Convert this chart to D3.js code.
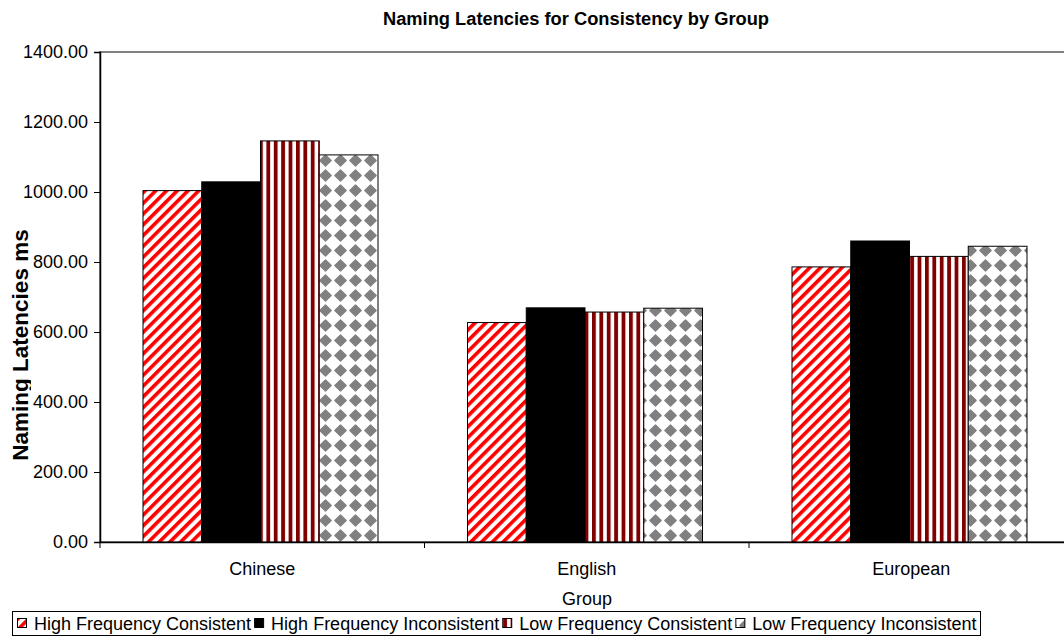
<!DOCTYPE html>
<html>
<head>
<meta charset="utf-8">
<script src="https://cdn.jsdelivr.net/npm/d3@7"></script>
<style>
  body { margin: 0; background: #fff; }
  svg { display: block; font-family: Arial, "Liberation Sans", sans-serif; }
</style>
</head>
<body>
<svg id="chart" width="1064" height="636"></svg>
<script>
// Groups on the category axis
const groups = ["Chinese", "English", "European"];
// Series (legend order)
const seriesNames = [
  "High Frequency Consistent",
  "High Frequency Inconsistent",
  "Low Frequency Consistent",
  "Low Frequency Inconsistent"
];
// Mean naming latencies (ms) per group
const highFreqConsistent   = [1004, 627, 786];
const highFreqInconsistent = [1029, 669, 860];
const lowFreqConsistent    = [1146, 657, 816];
const lowFreqInconsistent  = [1106, 668, 845];
const seriesValues = [highFreqConsistent, highFreqInconsistent, lowFreqConsistent, lowFreqInconsistent];
// Value axis ticks
const yTicks = [0, 200, 400, 600, 800, 1000, 1200, 1400];

const svg = d3.select("#chart");
const W = 1064, H = 636;
const plot = { left: 100, top: 52, bottom: 542, right: 1073.5 };

// ---- fill patterns ----
const defs = svg.append("defs");

// red wide upward diagonal
const pDiag = defs.append("pattern").attr("id", "pat-diag")
  .attr("patternUnits", "userSpaceOnUse").attr("width", 7.6).attr("height", 7.6)
  .attr("patternTransform", "rotate(45)");
pDiag.append("rect").attr("width", 7.6).attr("height", 7.6).attr("fill", "#fff");
pDiag.append("rect").attr("width", 3.6).attr("height", 7.6).attr("fill", "#ff0000");

// solid black
const pSolid = defs.append("pattern").attr("id", "pat-solid")
  .attr("patternUnits", "userSpaceOnUse").attr("width", 8).attr("height", 8);
pSolid.append("rect").attr("width", 8).attr("height", 8).attr("fill", "#000");

// dark red vertical stripes
const pVert = defs.append("pattern").attr("id", "pat-vert")
  .attr("patternUnits", "userSpaceOnUse").attr("width", 7.4).attr("height", 8);
pVert.append("rect").attr("width", 7.4).attr("height", 8).attr("fill", "#fff");
pVert.append("rect").attr("x", 0).attr("width", 3.8).attr("height", 8).attr("fill", "#800000");

// grey diamonds
const pDiam = defs.append("pattern").attr("id", "pat-diam")
  .attr("patternUnits", "userSpaceOnUse").attr("width", 15).attr("height", 15)
  .attr("x", 3).attr("y", 3);
pDiam.append("rect").attr("width", 15).attr("height", 15).attr("fill", "#fff");
pDiam.append("path")
  .attr("d", "M7.5,1.8 L13.2,7.5 L7.5,13.2 L1.8,7.5 Z")
  .attr("fill", "#808080")
  .attr("stroke", "#808080").attr("stroke-width", 1.2).attr("stroke-linejoin", "round");

const fills = ["url(#pat-diag)", "url(#pat-solid)", "url(#pat-vert)", "url(#pat-diam)"];

// ---- scales ----
const x0 = d3.scaleBand().domain(groups).range([plot.left, plot.right]);
const groupOffset = 43, groupWidth = 235;
const x1 = d3.scaleBand().domain(seriesNames).range([0, groupWidth]);
const y = d3.scaleLinear().domain([0, 1400]).range([plot.bottom, plot.top]);

// plot area border (grey)
svg.append("rect")
  .attr("x", plot.left).attr("y", plot.top)
  .attr("width", plot.right - plot.left).attr("height", plot.bottom - plot.top)
  .attr("fill", "none").attr("stroke", "#808080").attr("stroke-width", 2);

// ---- bars ----
const barData = [];
groups.forEach((g, gi) => {
  seriesNames.forEach((s, si) => {
    barData.push({ group: g, series: s, si, value: seriesValues[si][gi] });
  });
});
svg.append("g").selectAll("rect").data(barData).join("rect")
  .attr("x", d => x0(d.group) + groupOffset + x1(d.series))
  .attr("y", d => y(d.value))
  .attr("width", x1.bandwidth())
  .attr("height", d => y(0) - y(d.value))
  .attr("fill", d => fills[d.si])
  .attr("stroke", "#000").attr("stroke-width", 1);

// ---- y axis ----
const yAxis = d3.axisLeft(y).tickValues(yTicks).tickFormat(d3.format(".2f"))
  .tickSize(6).tickPadding(6);
const gy = svg.append("g").attr("transform", `translate(${plot.left},0)`).call(yAxis);
gy.select(".domain").attr("stroke", "#000").attr("stroke-width", 1.5);
gy.selectAll(".tick line").attr("stroke", "#000");
gy.selectAll(".tick text").attr("font-size", 18).attr("fill", "#000")
  .attr("font-family", "Arial, 'Liberation Sans', sans-serif");

// ---- x axis ----
const xAxis = d3.axisBottom(x0).tickSize(0).tickPadding(20);
const gx = svg.append("g").attr("transform", `translate(0,${plot.bottom})`).call(xAxis);
gx.select(".domain").attr("stroke", "#000").attr("stroke-width", 1.5);
gx.selectAll(".tick text").attr("font-size", 18).attr("fill", "#000")
  .attr("font-family", "Arial, 'Liberation Sans', sans-serif");
// category separators
svg.append("g").selectAll("line").data(groups).join("line")
  .attr("x1", d => x0(d)).attr("x2", d => x0(d))
  .attr("y1", plot.bottom).attr("y2", plot.bottom + 6)
  .attr("stroke", "#000");

// ---- titles ----
svg.append("text")
  .attr("x", 576).attr("y", 25)
  .attr("text-anchor", "middle").attr("font-size", 18.3).attr("font-weight", "bold")
  .text("Naming Latencies for Consistency by Group");

svg.append("text")
  .attr("x", 587).attr("y", 605)
  .attr("text-anchor", "middle").attr("font-size", 18)
  .text("Group");

defs.append("clipPath").attr("id", "ytitle-clip")
  .append("rect").attr("x", 0).attr("y", 0).attr("width", 31).attr("height", H);
svg.append("g").attr("clip-path", "url(#ytitle-clip)")
  .append("text")
  .attr("transform", "translate(28,345) rotate(-90)")
  .attr("text-anchor", "middle").attr("font-size", 22.5).attr("font-weight", "bold")
  .text("Naming Latencies ms");

// ---- legend ----
const legend = svg.append("g");
legend.append("rect")
  .attr("x", 12.5).attr("y", 611.5).attr("width", 968).attr("height", 24)
  .attr("fill", "#fff").attr("stroke", "#000").attr("stroke-width", 1);
let lx = 17;
seriesNames.forEach((s, i) => {
  legend.append("rect")
    .attr("x", lx + 0.5).attr("y", 618.5).attr("width", 9).attr("height", 9)
    .attr("fill", fills[i]).attr("stroke", "#000").attr("stroke-width", 1);
  const t = legend.append("text")
    .attr("x", lx + 17).attr("y", 630)
    .attr("font-size", 18).text(s);
  lx = lx + 17 + t.node().getComputedTextLength() + 3;
});
</script>
</body>
</html>
